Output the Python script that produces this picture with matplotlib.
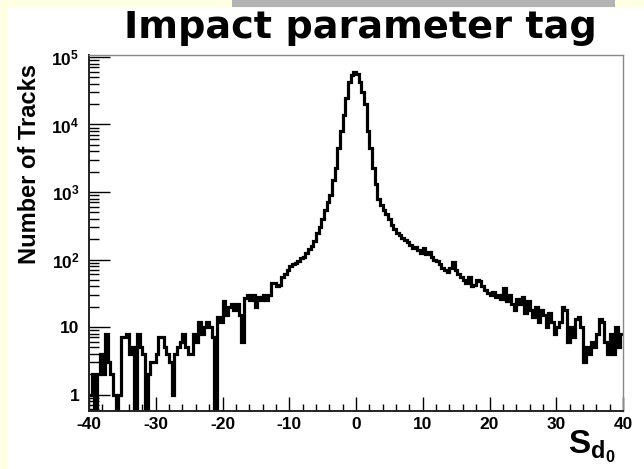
"""
Impact parameter significance histogram (ROOT-style), log y axis.
"""

import matplotlib

matplotlib.use("Agg")

import matplotlib.pyplot as plt
import numpy as np
from matplotlib.patches import Rectangle
from matplotlib.ticker import FixedLocator, FuncFormatter, MultipleLocator

# ===== Data =====
X_MIN, X_MAX, N_BINS = -40.0, 40.0, 200

COUNTS_LEFT_TAIL = [  # bins 0..71  (-40 .. -11.2)
    1, 2, 0, 2, 4, 2, 8, 3, 2, 1, 0, 1, 7, 7, 8, 4, 5, 0, 8, 5,
    4, 0, 2, 3, 3, 4, 7, 7, 5, 4, 3, 1, 4, 5, 6, 8, 5, 4, 4, 8,
    6, 12, 8, 10, 12, 10, 7, 0, 14, 12, 24, 15, 20, 22, 18, 22, 15, 6, 27, 30,
    25, 30, 20, 28, 25, 30, 25, 30, 45, 45, 40, 42,
]
COUNTS_CORE = [  # bins 72..123  (-11.2 .. 9.6)
    55, 62, 70, 80, 85, 90, 95, 105, 110, 125, 145, 160, 190, 250, 300, 400,
    550, 700, 900, 1500, 2300, 4500, 8000, 14000, 25000, 42000, 54000, 60000,
    56000, 42000, 30000, 20000, 8000, 4500, 2300, 1300, 800, 650, 550, 480,
    400, 320, 280, 250, 230, 210, 195, 180, 165, 150, 155, 140,
]
COUNTS_RIGHT_TAIL = [  # bins 124..199  (9.6 .. 40)
    125, 150, 120, 130, 110, 100, 95, 85, 75, 70, 65, 75, 92, 70, 60, 55,
    50, 45, 55, 40, 42, 50, 48, 40, 35, 32, 30, 33, 28, 30, 26, 38,
    24, 30, 22, 18, 26, 22, 28, 16, 24, 18, 14, 20, 12, 18, 15, 10,
    16, 12, 8, 10, 12, 20, 18, 6, 10, 7, 13, 14, 10, 3, 5, 4,
    6, 5, 8, 13, 12, 6, 4, 8, 4, 10, 5, 8,
]

Y_TICKS = [1, 10, 100, 1000, 10000, 100000]
X_TICKS = [-40, -30, -20, -10, 0, 10, 20, 30, 40]

TITLE = "Impact parameter tag"
Y_LABEL = "Number of Tracks"
X_LABEL = r"$\mathrm{S_{d_{0}}}$"

# ===== Style =====
BG_YELLOW = "#FFFFE3"
BAR_GREY = "#B3B3B3"
W, H = 644, 469

plt.rcParams["font.family"] = ["Liberation Sans", "DejaVu Sans"]
plt.rcParams["axes.unicode_minus"] = False
plt.rcParams["mathtext.fontset"] = "custom"
plt.rcParams["mathtext.rm"] = "Liberation Sans:bold"
plt.rcParams["mathtext.bf"] = "Liberation Sans:bold"
plt.rcParams["mathtext.it"] = "Liberation Sans:bold"


def ytick_label(v, _pos):
    if v < 50:
        return f"{int(round(v))}"
    return r"$\mathrm{10^{%d}}$" % int(round(np.log10(v)))


def main() -> None:
    counts = np.array(COUNTS_LEFT_TAIL + COUNTS_CORE + COUNTS_RIGHT_TAIL, dtype=float)
    edges = np.linspace(X_MIN, X_MAX, N_BINS + 1)
    # empty bins drop to the bottom of the log axis, as in ROOT
    plot_counts = np.where(counts > 0, counts, 1e-3)

    fig = plt.figure(figsize=(W / 100, H / 100), dpi=100, facecolor=BG_YELLOW)

    # white slide area and the grey strip at the top
    fig.patches.append(Rectangle((7 / W, 0), 1, 1 - 8 / H, transform=fig.transFigure,
                                 facecolor="white", edgecolor="none", zorder=-2))
    fig.patches.append(Rectangle((232 / W, 1 - 7 / H), (615 - 232) / W, 7 / H,
                                 transform=fig.transFigure, facecolor=BAR_GREY,
                                 edgecolor="none", zorder=-1))

    ax = fig.add_axes([89 / W, 1 - 411 / H, (623 - 89) / W, (411 - 55) / H])
    ax.set_facecolor("white")

    ax.stairs(plot_counts, edges, color="black", linewidth=2.3, baseline=None)

    ax.set_yscale("log")
    ax.set_xlim(X_MIN, X_MAX)
    ax.set_ylim(0.57, 1.07e5)

    ax.xaxis.set_major_locator(FixedLocator(X_TICKS))
    ax.xaxis.set_minor_locator(MultipleLocator(2))
    ax.yaxis.set_major_locator(FixedLocator(Y_TICKS))
    ax.yaxis.set_major_formatter(FuncFormatter(ytick_label))

    ax.tick_params(axis="both", which="both", direction="in", top=False, right=False,
                   color="black")
    ax.tick_params(axis="x", which="major", length=10, width=1.0, pad=4,
                   labelsize=12.5)
    ax.tick_params(axis="x", which="minor", length=5, width=1.0)
    ax.tick_params(axis="y", which="major", length=15, width=1.0, pad=7,
                   labelsize=12.5)
    ax.tick_params(axis="y", which="minor", length=7, width=1.0)
    for lab in ax.get_xticklabels() + ax.get_yticklabels():
        lab.set_fontweight("bold")

    for side in ("left", "bottom"):
        ax.spines[side].set_color("#222222")
        ax.spines[side].set_linewidth(1.4)
    for side in ("top", "right"):
        ax.spines[side].set_color("#888888")
        ax.spines[side].set_linewidth(1.0)

    fig.text(360 / W, 1 - 38 / H, TITLE, ha="center", va="baseline",
             fontsize=27.5, fontweight="bold", family="DejaVu Sans")
    fig.text(30 / W, 1 - 164 / H, Y_LABEL, ha="center", va="center", rotation=90,
             fontsize=17, fontweight="bold")
    fig.text(592 / W, 1 - 447 / H, X_LABEL, ha="center", va="center", fontsize=24)

    fig.savefig("out.png", dpi=100, facecolor=fig.get_facecolor())


if __name__ == "__main__":
    main()
